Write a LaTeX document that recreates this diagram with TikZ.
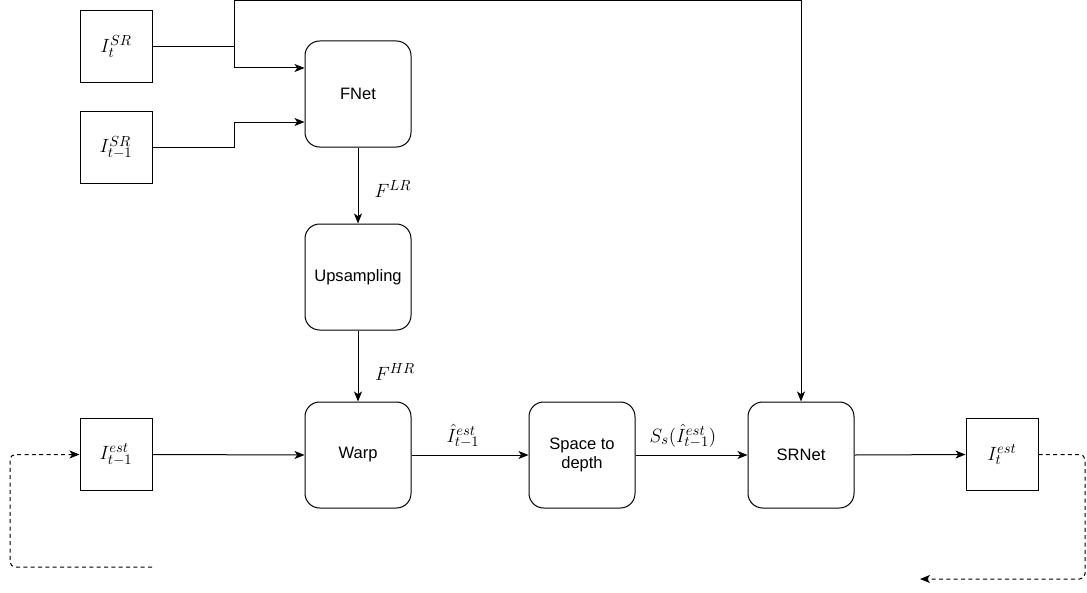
\documentclass[tikz,border=0pt]{standalone}
\usepackage{fontspec}
\setsansfont{Liberation Sans}
\usetikzlibrary{arrows.meta}
\begin{document}
\begin{tikzpicture}[x=0.75pt,y=-0.75pt,
  imgbox/.style={draw,line width=0.75pt,minimum width=54pt,minimum height=53.5pt,
    inner sep=0pt,font=\fontsize{15}{18}\selectfont},
  procbox/.style={draw,line width=0.75pt,rounded corners=11pt,minimum width=79.5pt,
    minimum height=79.5pt,inner sep=0pt,align=center,
    font=\sffamily\fontsize{12.4}{14.5}\selectfont},
  lbl/.style={inner sep=0pt,font=\fontsize{15}{18}\selectfont},
  flow/.style={line width=0.75pt,-{Stealth[length=7.5pt,width=6pt,inset=2pt]}},
  plain/.style={line width=0.75pt},
  loop/.style={line width=0.75pt,dash pattern=on 3pt off 2.5pt,rounded corners=4pt,
    -{Stealth[length=7.5pt,width=6pt,inset=2pt]}}]
\useasboundingbox (0,0) rectangle (1087,592);

% input frames and processing blocks
\node[imgbox] (isr)   at (116,46.5)  {$I_t^{SR}$};
\node[imgbox] (isrp)  at (116,147.5) {$I_{t-1}^{SR}$};
\node[imgbox] (iestp) at (116,454.5) {$I_{t-1}^{est}$};
\node[imgbox] (iest)  at (1002,454.5) {$I_t^{est}$};

\node[procbox] (fnet)  at (358,94)  {FNet};
\node[procbox] (ups)   at (358,277) {Upsampling};
\node[procbox] (warp)  at (358,455) {Warp};
\node[procbox] (s2d)   at (582,455) {Space to\\depth};
\node[procbox] (srnet) at (801,455) {SRNet};

% junction points
\coordinate (ja) at (234,46.5);
\coordinate (jb) at (234,147.5);
\coordinate (jtop) at (234,1);
\coordinate (fbstart) at (152,567);
\coordinate (fbend) at (920,579);

% flow-estimation inputs
\draw[plain] (isr.east) -- (ja);
\draw[flow] (ja) |- ([yshift=19.5pt]fnet.west);
\draw[flow] (ja) -- (jtop) -| (srnet.north);
\draw[flow] (isrp.east) -- (jb) |- ([yshift=-21pt]fnet.west);

% flow chain
\draw[flow] (fnet.south) -- (ups.north);
\draw[flow] (ups.south) -- (warp.north);
\node[lbl] (flr) at (393,189) {$F^{LR}$};
\node[lbl] (fhr) at (395,372) {$F^{HR}$};

% main pipeline
\draw[flow] (iestp.east) -- (warp.west);
\draw[flow] (warp.east) -- (s2d.west);
\draw[flow] (s2d.east) -- (srnet.west);
\draw[flow] (srnet.east) -- (iest.west);
\node[lbl] (ihat) at (463,436) {$\hat{I}_{t-1}^{est}$};
\node[lbl] (shat) at (683,436) {$S_s(\hat{I}_{t-1}^{est})$};

% recurrent feedback
\draw[loop] (iest.east) -- (1085,454.5) -- (1085,579) -- (fbend);
\draw[loop] (fbstart) -- (10,567) -- (10,454.5) -- (iestp.west);
\end{tikzpicture}
\end{document}
